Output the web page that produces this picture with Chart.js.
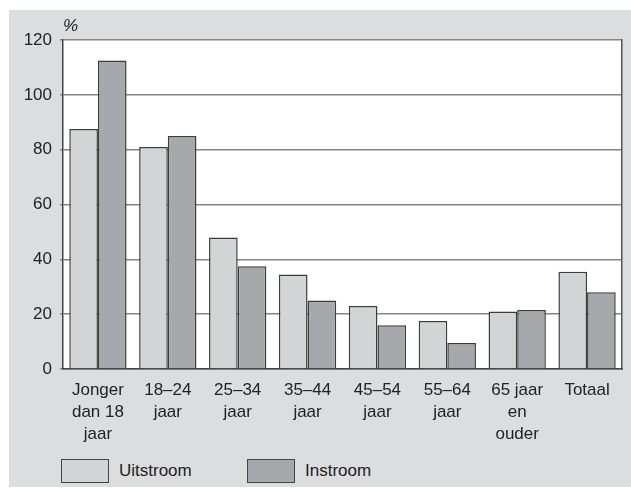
<!DOCTYPE html>
<html>
<head>
    <meta charset="UTF-8">
    <title>Uitstroom en instroom</title>
    <script src="https://cdn.jsdelivr.net/npm/chart.js@4.4.0/dist/chart.umd.min.js"></script>
</head>
<style>
    body { margin: 0; background: #fff; }
    #panel { position: absolute; left: 9px; top: 10px; width: 622px; height: 477px; background: #dcdddf; }
    #chart { position: absolute; left: 0; top: 0; }
    .item { position: absolute; top: 449px; height: 24px; display: flex; align-items: center;
            font-family: 'Liberation Sans', Arial, sans-serif; font-size: 17px; color: #222; }
    .box { width: 48px; height: 24px; box-sizing: border-box; border: 1.5px solid #444; margin-right: 10px; }
</style>
<body>
    <div id="panel">
        <canvas id="chart" width="622" height="439"></canvas>
    </div>

    <script>
        var categories = [
            ['Jonger', 'dan 18', 'jaar'], ['18–24', 'jaar'], ['25–34', 'jaar'], ['35–44', 'jaar'],
            ['45–54', 'jaar'], ['55–64', 'jaar'], ['65 jaar', 'en', 'ouder'], ['Totaal']
        ];
        var uitstroom = [87.5, 81, 48, 34.5, 23, 17.5, 21, 35.5];
        var instroom = [112.5, 85, 37.5, 25, 16, 9.5, 21.5, 28];
        var seriesNames = ['Uitstroom', 'Instroom'];
        var seriesColors = ['#d3d4d6', '#a7a8ab'];
        var yTicks = [0, 20, 40, 60, 80, 100, 120];

        Chart.defaults.font.family = 'Liberation Sans';
        Chart.defaults.color = '#222';

        // white plot area on the grey panel
        var plotBackground = {
            id: 'plotBackground',
            beforeDraw: function (chart) {
                var a = chart.chartArea, c = chart.ctx;
                c.save();
                c.fillStyle = '#fff';
                c.fillRect(a.left, a.top, a.right - a.left, a.bottom - a.top);
                c.restore();
            }
        };

        var ctx = document.getElementById('chart');
        new Chart(ctx, {
            type: 'bar',
            data: {
                labels: categories,
                datasets: [{
                    label: seriesNames[0],
                    data: uitstroom,
                    backgroundColor: seriesColors[0],
                    borderColor: '#3c3c3c',
                    borderWidth: 1.5
                }, {
                    label: seriesNames[1],
                    data: instroom,
                    backgroundColor: seriesColors[1],
                    borderColor: '#3c3c3c',
                    borderWidth: 1.5
                }]
            },
            options: {
                responsive: false,
                animation: false,
                devicePixelRatio: 1,
                categoryPercentage: 0.82,
                barPercentage: 1,
                layout: { padding: { left: 0, right: 9, top: 0, bottom: 0 } },
                plugins: {
                    legend: { display: false },
                    tooltip: { enabled: false },
                    title: {
                        display: true, text: '%', align: 'start', fullSize: false,
                        font: { size: 17, style: 'italic', weight: 'normal' },
                        padding: { top: 6, bottom: 3.6 }, color: '#222'
                    }
                },
                scales: {
                    x: {
                        grid: { display: false },
                        border: { display: true, color: '#444', width: 1.5 },
                        ticks: { font: { size: 17, lineHeight: 1.3 }, padding: 2, maxRotation: 0, autoSkip: false, color: '#222' },
                        afterFit: function (s) { s.height = 80; }
                    },
                    y: {
                        min: yTicks[0], max: yTicks[yTicks.length - 1],
                        afterBuildTicks: function (s) { s.ticks = yTicks.map(function (v) { return { value: v }; }); },
                        ticks: { font: { size: 17 }, padding: 8, color: '#222' },
                        grid: { color: '#858585', lineWidth: 1.5, tickLength: 3 },
                        border: { display: true, color: '#444', width: 1.5 },
                        afterFit: function (s) { s.width = 54; }
                    },
                    y2: {
                        position: 'right', min: 0, max: 1,
                        grid: { display: false },
                        ticks: { display: false },
                        border: { display: true, color: '#555', width: 1.5 },
                        afterFit: function (s) { s.width = 0; }
                    }
                }
            },
            plugins: [plotBackground]
        });

        // legend
        var panel = document.getElementById('panel');
        var lefts = [52, 238];
        seriesNames.forEach(function (name, i) {
            var item = document.createElement('div');
            item.className = 'item';
            item.style.left = lefts[i] + 'px';
            var box = document.createElement('span');
            box.className = 'box';
            box.style.background = seriesColors[i];
            item.appendChild(box);
            item.appendChild(document.createTextNode(name));
            panel.appendChild(item);
        });
    </script>
</body>
</html>
